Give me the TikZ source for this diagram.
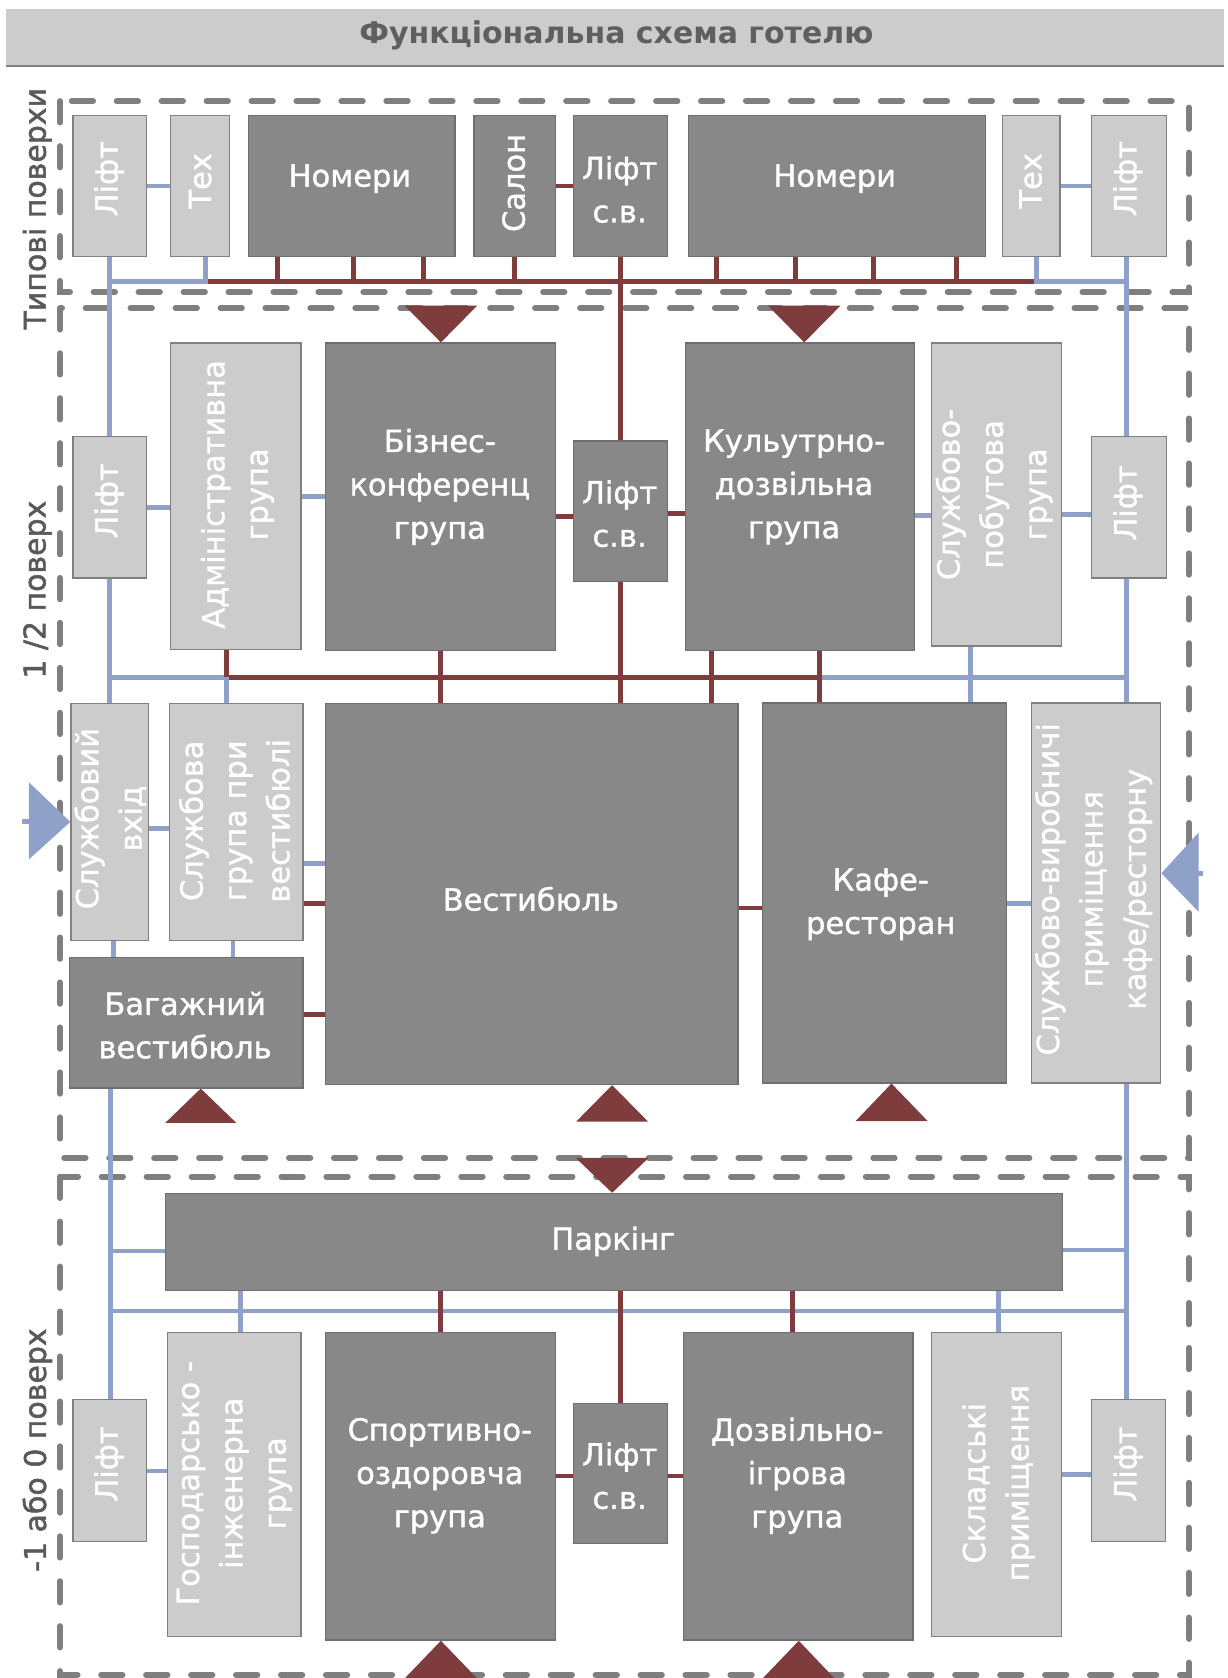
\documentclass[tikz,border=0pt]{standalone}
\usepackage{fontspec}
\setmainfont{DejaVu Sans}
\newfontfamily\boxfont[FakeBold=1.2]{DejaVu Sans}
\newfontfamily\labfont[FakeBold=1.6]{DejaVu Sans}
\definecolor{darkbox}{HTML}{888888}
\definecolor{darkedge}{HTML}{6E6E6E}
\definecolor{lightbox}{HTML}{CCCCCC}
\definecolor{lightedge}{HTML}{808080}
\definecolor{redc}{HTML}{7F3C3C}
\definecolor{bluec}{HTML}{8FA1C8}
\definecolor{dashc}{HTML}{7F7F7F}
\definecolor{labelc}{HTML}{595959}
\definecolor{titlec}{HTML}{5F5F5F}
\newcommand\mkbox[6]{\node[#1, minimum width={#5-#3}, minimum height={#6-#4}] (#2) at (#3,#4) {};}
\begin{document}
\begin{tikzpicture}[x=1pt,y=-1pt,
 dbox/.style={draw=darkedge, fill=darkbox, line width=1.2pt, anchor=north west, inner sep=0},
 lbox/.style={draw=lightedge, fill=lightbox, line width=1.2pt, anchor=north west, inner sep=0},
 txt/.style={text=white, font=\boxfont\fontsize{28.5}{40.5}\selectfont, align=center, inner sep=0},
 vtxt/.style={txt, rotate=90},
 bl/.style={draw=bluec, line width=4.5pt},
 rd/.style={draw=redc, line width=4.5pt},
 zone/.style={draw=dashc, line width=5.5pt, line cap=round, dash pattern=on 20pt off 22pt},
 seclabel/.style={text=labelc, font=\labfont\fontsize{28}{32}\selectfont, rotate=90, inner sep=0},
]
\useasboundingbox (0,0) rectangle (1147,1568);

% title bar
\node[fill=lightbox, anchor=north west, minimum width=1138, minimum height=53.3, inner sep=0] (bar) at (5.5,8) {};
\draw[dashc, line width=1.5pt] (bar.south west) -- (bar.south east);
\node[text=titlec, font=\bfseries\fontsize{28}{32}\selectfont, inner sep=0] (title) at (576,33) {Функціональна схема готелю};

% zones
\draw[zone] (56,94.5) rectangle (1111,273);
\draw[zone] (56,288) rectangle (1111,1082);
\draw[zone] (56,1099.5) rectangle (1111,1565);
\node[seclabel] (sec1) at (35,195) {Типові поверхи};
\node[seclabel] (sec2) at (35,551) {1 /2 поверх};
\node[seclabel] (sec3) at (35,1355) {-1 або 0 поверх};

% boxes: top
\mkbox{lbox}{liftT1}{67.6}{107.5}{136}{239}
\mkbox{lbox}{texT1}{158.8}{107.5}{214}{239}
\mkbox{dbox}{nomT1}{231.5}{107.5}{424.5}{239}
\mkbox{dbox}{salon}{442.3}{107.5}{518.7}{239}
\mkbox{dbox}{lsvT}{535}{107.5}{623.3}{239}
\mkbox{dbox}{nomT2}{643}{107.5}{920.5}{239}
\mkbox{lbox}{texT2}{936}{107.5}{990}{239}
\mkbox{lbox}{liftT2}{1019.4}{107.5}{1089.6}{239}
% middle
\mkbox{lbox}{liftM1}{67.6}{407.2}{136}{539.6}
\mkbox{lbox}{adm}{158.8}{320}{280.6}{606}
\mkbox{dbox}{biz}{303.5}{320}{518.7}{607}
\mkbox{dbox}{lsvM}{535}{411.6}{623.3}{542.7}
\mkbox{dbox}{cul}{639.8}{320}{854}{607}
\mkbox{lbox}{sbp}{869.6}{320}{991.4}{603}
\mkbox{lbox}{liftM2}{1019.4}{407.2}{1089.6}{539.6}
% lower middle
\mkbox{lbox}{svx}{65.7}{657}{138.4}{878}
\mkbox{lbox}{sgv}{158}{657}{282.5}{878}
\mkbox{dbox}{vest}{303.5}{657}{689}{1012.8}
\mkbox{dbox}{cafe}{711.7}{656.3}{939.6}{1011.3}
\mkbox{lbox}{svr}{963}{656.3}{1084}{1011.3}
\mkbox{dbox}{bag}{64.6}{894.2}{282.5}{1016}
% bottom
\mkbox{dbox}{park}{154.3}{1114.6}{992.5}{1205}
\mkbox{lbox}{liftB1}{67.6}{1307}{136}{1440}
\mkbox{lbox}{gosp}{155.8}{1244.5}{280.6}{1528.8}
\mkbox{dbox}{sport}{303.5}{1244.5}{518.7}{1532}
\mkbox{dbox}{lsvB}{535}{1310.8}{623.3}{1441.5}
\mkbox{dbox}{doz}{638.4}{1244.5}{852.6}{1532}
\mkbox{lbox}{skl}{869.6}{1244.5}{991.4}{1528.8}
\mkbox{lbox}{liftB2}{1019.4}{1307}{1088.4}{1440}

% texts
\node[vtxt] (t-liftT1) at (102,167) {Ліфт};
\node[vtxt] (t-texT1) at (187,169) {Тех};
\node[txt] (t-nomT1) at (327,167) {Номери};
\node[vtxt] (t-salon) at (480,171) {Салон};
\node[txt] (t-lsvT) at (579,177) {Ліфт\\с.в.};
\node[txt] (t-nomT2) at (780,167) {Номери};
\node[vtxt] (t-texT2) at (963,169) {Тех};
\node[vtxt] (t-liftT2) at (1054,167) {Ліфт};
\node[vtxt] (t-liftM1) at (102,468) {Ліфт};
\node[vtxt] (t-adm) at (222,462) {Адміністративна\\група};
\node[txt] (t-biz) at (411,455) {Бізнес-\\конференц\\група};
\node[txt] (t-lsvM) at (579,480) {Ліфт\\с.в.};
\node[txt] (t-cul) at (742,455) {Кульутрно-\\дозвільна\\група};
\node[vtxt] (t-sbp) at (929,462) {Службово-\\побутова\\група};
\node[vtxt] (t-liftM2) at (1054,470) {Ліфт};
\node[vtxt] (t-svx) at (103,765) {Службовий\\вхід};
\node[vtxt] (t-sgv) at (219,767) {Службова\\група при\\вестибюлі};
\node[txt] (t-vest) at (496,840) {Вестибюль};
\node[txt] (t-cafe) at (823,845) {Кафе-\\ресторан};
\node[vtxt] (t-svr) at (1022,831) {Службово-виробничі\\приміщення\\кафе/ресторну};
\node[txt] (t-bag) at (173,958) {Багажний\\вестибюль};
\node[txt] (t-park) at (573,1160) {Паркінг};
\node[vtxt] (t-liftB1) at (102,1368) {Ліфт};
\node[vtxt] (t-gosp) at (219,1386) {Господарсько -\\інженерна\\група};
\node[txt] (t-sport) at (411,1379) {Спортивно-\\оздоровча\\група};
\node[txt] (t-lsvB) at (579,1379) {Ліфт\\с.в.};
\node[txt] (t-doz) at (745,1379) {Дозвільно-\\ігрова\\група};
\node[vtxt] (t-skl) at (933,1386) {Складські\\приміщення};
\node[vtxt] (t-liftB2) at (1054,1368) {Ліфт};

% connectors: top
\draw[bl] (liftT1.east) -- (texT1.west);
\draw[rd] (salon.east) -- (lsvT.west);
\draw[bl] (texT2.east) -- (liftT2.west);
\coordinate (tb1) at (102,263);
\coordinate (tb2) at (192,263);
\coordinate (tb3) at (968.5,263);
\coordinate (tb4) at (1053,263);
\draw[rd] (tb2) -- (tb3);
\draw[bl] (texT1.south -| tb2) -- (tb2) -- (tb1);
\draw[bl] (texT2.south -| tb3) -- (tb3) -- (tb4);
\draw[bl] (liftT1.south -| tb1) -- (liftM1.north -| tb1);
\draw[bl] (liftT2.south -| tb4) -- (liftM2.north -| tb4);
\foreach \xx in {259,330.5,396} \draw[rd] (nomT1.south -| \xx,0) -- (\xx,263);
\foreach \xx in {669.4,743.3,816.4,894} \draw[rd] (nomT2.south -| \xx,0) -- (\xx,263);
\draw[rd] (salon.south) -- (salon.south |- tb1);
\draw[rd] (lsvT.south) -- (lsvM.north);

% connectors: middle
\draw[bl] (liftM1.east) -- (liftM1.east -| adm.west);
\draw[bl] (adm.east) -- (adm.east -| biz.west);
\draw[rd] (biz.east |- 0,482.5) -- (lsvM.west |- 0,482.5);
\draw[rd] (lsvM.east |- 0,480) -- (cul.west |- 0,480);
\draw[bl] (cul.east |- 0,481.7) -- (sbp.west |- 0,481.7);
\draw[bl] (sbp.east |- 0,480.4) -- (liftM2.west |- 0,480.4);
\coordinate (mb1) at (102,633);
\coordinate (mb2) at (212,633);
\coordinate (mb3) at (765.5,633);
\coordinate (mb4) at (1053,633);
\draw[bl] (mb1) -- (mb2);
\draw[bl] (mb3) -- (mb4);
\draw[rd] (mb2) -- (mb3);
\draw[bl] (liftM1.south -| mb1) -- (svx.north -| mb1);
\draw[bl] (liftM2.south -| mb4) -- (svr.north -| mb4);
\draw[rd] (adm.south -| mb2) -- (mb2);
\draw[bl] (mb2) -- (sgv.north -| mb2);
\draw[rd] (biz.south) -- (biz.south |- vest.north);
\draw[rd] (lsvM.south) -- (lsvM.south |- vest.north);
\draw[rd] (cul.south -| 665,0) -- (vest.north -| 665,0);
\draw[rd] (cul.south -| mb3) -- (cafe.north -| mb3);
\draw[bl] (sbp.south -| 906.5,0) -- (cafe.north -| 906.5,0);

% connectors: lower middle
\draw[bl] (svx.east |- 0,774) -- (sgv.west |- 0,774);
\draw[bl] (sgv.east |- 0,807) -- (vest.west |- 0,807);
\draw[rd] (sgv.east |- 0,844) -- (vest.west |- 0,844);
\draw[rd] (bag.east |- 0,948) -- (vest.west |- 0,948);
\draw[rd] (vest.east |- 0,848.5) -- (cafe.west |- 0,848.5);
\draw[bl] (cafe.east |- 0,844.5) -- (svr.west |- 0,844.5);
\draw[bl] (svx.south -| 106.3,0) -- (bag.north -| 106.3,0);
\draw[bl] (sgv.south -| 217.8,0) -- (bag.north -| 217.8,0);

% connectors: bottom
\coordinate (lb1) at (103.4,1169);
\coordinate (lb2) at (1052.7,1168);
\coordinate (bb1) at (103.4,1225);
\coordinate (bb2) at (1052.7,1225);
\draw[bl] (bag.south -| bb1) -- (liftB1.north -| bb1);
\draw[bl] (svr.south -| bb2) -- (liftB2.north -| bb2);
\draw[bl] (lb1) -- (park.west |- lb1);
\draw[bl] (lb2) -- (park.east |- lb2);
\draw[bl] (bb1) -- (bb2);
\draw[bl] (park.south -| 224.5,0) -- (gosp.north -| 224.5,0);
\draw[bl] (park.south -| 932.7,0) -- (skl.north -| 932.7,0);
\draw[rd] (park.south -| 411.6,0) -- (sport.north -| 411.6,0);
\draw[rd] (lsvB.north |- park.south) -- (lsvB.north);
\draw[rd] (park.south -| 740.7,0) -- (doz.north -| 740.7,0);
\draw[bl] (liftB1.east |- 0,1374.6) -- (gosp.west |- 0,1374.6);
\draw[rd] (sport.east |- 0,1379.3) -- (lsvB.west |- 0,1379.3);
\draw[rd] (lsvB.east |- 0,1379.3) -- (doz.west |- 0,1379.3);
\draw[bl] (skl.east |- 0,1377.7) -- (liftB2.west |- 0,1377.7);

% markers
\fill[redc] (378,285.5) -- (446,285.5) -- (biz.north -| 412,0) -- cycle;
\fill[redc] (717.5,285.5) -- (785.5,285.5) -- (cul.north -| 751.5,0) -- cycle;
\fill[redc] (154.4,1049.3) -- (220.8,1049.3) -- (bag.south -| 187.6,0) -- cycle;
\fill[redc] (538.5,1048) -- (605.5,1048) -- (vest.south -| 572,0) -- cycle;
\fill[redc] (799.4,1047.7) -- (867,1047.7) -- (cafe.south -| 833,0) -- cycle;
\fill[redc] (538,1082) -- (606,1082) -- (park.north -| 572,0) -- cycle;
\fill[redc] (378.5,1568) -- (445.5,1568) -- (sport.south -| 412,0) -- cycle;
\fill[redc] (713,1568) -- (779.5,1568) -- (doz.south -| 746.4,0) -- cycle;
\draw[bl] (21,768) -- (30,768);
\fill[bluec] (27,731) -- (27,803) -- (svx.west |- 0,768) -- cycle;
\draw[bl] (1117,816) -- (1124,816);
\fill[bluec] (1120,778) -- (1120,852) -- (svr.east |- 0,816) -- cycle;
\end{tikzpicture}
\end{document}
